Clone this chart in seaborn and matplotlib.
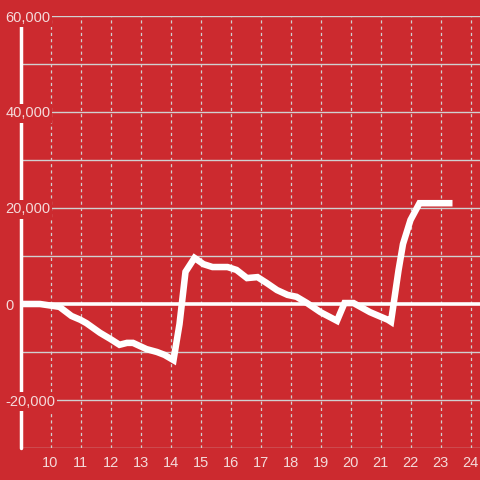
import pandas as pd
import seaborn as sns
import matplotlib.pyplot as plt

# values
hours = [9.0, 9.65, 10.3, 10.7, 11.0, 11.2, 11.65, 12.0, 12.3, 12.55, 12.75, 13.2,
         13.55, 13.8, 14.1, 14.3, 14.5, 14.8, 15.1, 15.4, 15.9, 16.2, 16.55, 16.9,
         17.2, 17.55, 17.9, 18.2, 18.55, 19.0, 19.55, 19.8, 20.1, 20.65, 21.25,
         21.35, 21.6, 21.75, 22.0, 22.3, 23.4]
values = [0, 0, -600, -2500, -3300, -4000, -6000, -7300, -8500, -8100, -8100, -9400,
          -10000, -10600, -11700, -4200, 6700, 9600, 8300, 7700, 7700, 7100, 5400, 5600,
          4400, 2900, 1900, 1500, 200, -1700, -3500, 200, 200, -1700, -3300,
          -3700, 7000, 12500, 17500, 21000, 21000]
x_ticks = list(range(10, 25))
y_ticks = [-20000, 0, 20000, 40000, 60000]
y_labels = ['-20,000', '0', '20,000', '40,000', '60,000']

bg = '#CC2A2F'
label_color = '#F4DADA'
grid_color = '#D0D0D0'

df = pd.DataFrame({'hour': hours, 'value': values})

sns.set_style('white')
plt.rcParams['font.family'] = ['Liberation Sans', 'DejaVu Sans']

fig = plt.figure(figsize=(4.8, 4.8), dpi=100, facecolor=bg)
ax = fig.add_axes([20.5 / 480, 32 / 480, 459.5 / 480, 432 / 480], facecolor=bg)

sns.lineplot(data=df, x='hour', y='value', ax=ax, color='white', linewidth=4.7,
             zorder=5, solid_joinstyle='miter', solid_capstyle='butt')

ax.set_xlim(9, 9 + 459.5 / 30)
ax.set_ylim(-30000, 60000)

# horizontal grid every 10,000
for v in range(-30000, 60001, 10000):
    if v == 0:
        ax.axhline(0, color='white', linewidth=2.6, zorder=3)
    else:
        ax.axhline(v, color=grid_color, linewidth=1.0, zorder=2)
# dotted vertical grid
for h in x_ticks:
    ax.axvline(h, color=grid_color, linewidth=0.9, linestyle=(0, (2.5, 2.5)), zorder=1)
# left axis line
ax.axvline(9, color='white', linewidth=2.5, zorder=2.2, clip_on=False)

for s in ax.spines.values():
    s.set_visible(False)

ax.set_xticks(x_ticks)
ax.set_xticklabels([str(t) for t in x_ticks])
ax.set_yticks(y_ticks)
ax.set_yticklabels(y_labels)
ax.tick_params(axis='both', length=0, labelsize=10.5, labelcolor=label_color)
ax.tick_params(axis='x', pad=6)
ax.tick_params(axis='y', pad=11)
for lab in ax.get_yticklabels():
    lab.set_horizontalalignment('left')
    lab.set_bbox(dict(facecolor=bg, edgecolor='none', pad=1.5))
# labels sit on top of the grid and the axis line
ax.yaxis.set_zorder(4)
ax.set_xlabel('')
ax.set_ylabel('')

fig.savefig('out.png', dpi=100, facecolor=bg)
